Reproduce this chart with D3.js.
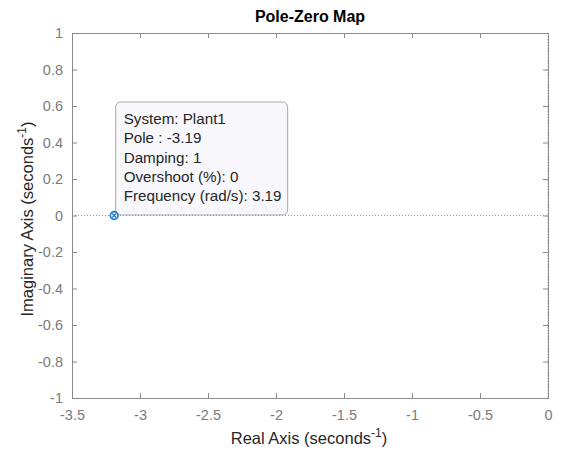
<!DOCTYPE html>
<html>
<head>
<meta charset="utf-8">
<script src="https://cdn.jsdelivr.net/npm/d3@7"></script>
<style>
  html, body { margin: 0; padding: 0; background: #fff; }
  svg { display: block; font-family: "Liberation Sans", Arial, Helvetica, sans-serif; }
</style>
</head>
<body>
<svg id="chart" width="563" height="455"></svg>
<script>
// Axis ranges and ticks
const xDomain = [-3.5, 0];
const yDomain = [-1, 1];
const xTicks = [-3.5, -3, -2.5, -2, -1.5, -1, -0.5, 0];
const yTicks = [-1, -0.8, -0.6, -0.4, -0.2, 0, 0.2, 0.4, 0.6, 0.8, 1];

// System poles (real, imaginary)
const poleRe = [-3.19];
const poleIm = [0];

// Data tip contents for the selected pole
const tipSystem = "Plant1";
const tipPole = -3.19;
const tipDamping = 1;
const tipOvershoot = 0;
const tipFrequency = 3.19;

const W = 563, H = 455;
const margin = { left: 72, right: 15, top: 33, bottom: 57 };
const iw = W - margin.left - margin.right;
const ih = H - margin.top - margin.bottom;

const axisColor = "#8a8a8a";
const tickTextColor = "#7b7b7b";
const labelColor = "#262626";
const poleColor = "#1a7ac9";

const svg = d3.select("#chart");
const g = svg.append("g").attr("transform", `translate(${margin.left},${margin.top})`);

const x = d3.scaleLinear().domain(xDomain).range([0, iw]);
const y = d3.scaleLinear().domain(yDomain).range([ih, 0]);

const fmt = d => d3.format("")(d).replace("−", "-");

// Zero reference lines (dotted)
g.append("line")
  .attr("x1", 0).attr("x2", iw)
  .attr("y1", y(0)).attr("y2", y(0))
  .attr("stroke", "#9a9a9a").attr("stroke-width", 1)
  .attr("stroke-dasharray", "1,2");
g.append("line")
  .attr("x1", x(0)).attr("x2", x(0))
  .attr("y1", 0).attr("y2", ih)
  .attr("stroke", "#9a9a9a").attr("stroke-width", 1)
  .attr("stroke-dasharray", "1,2");

// Axes with inward ticks on all four sides
const tickLen = 5;
function styleAxis(sel) {
  sel.select(".domain").remove();
  sel.selectAll(".tick line").attr("stroke", axisColor);
  sel.selectAll(".tick text")
    .attr("fill", tickTextColor)
    .style("font-size", "14.5px")
    .style("font-family", "\"Liberation Sans\", Arial, sans-serif");
}

g.append("g").attr("transform", `translate(0,${ih})`)
  .call(d3.axisBottom(x).tickValues(xTicks).tickFormat(fmt).tickSizeInner(-tickLen).tickSizeOuter(0).tickPadding(12))
  .call(styleAxis);
g.append("g")
  .call(d3.axisTop(x).tickValues(xTicks).tickFormat("").tickSizeInner(-tickLen).tickSizeOuter(0))
  .call(styleAxis);
g.append("g")
  .call(d3.axisLeft(y).tickValues(yTicks).tickFormat(fmt).tickSizeInner(-tickLen).tickSizeOuter(0).tickPadding(9))
  .call(styleAxis);
g.append("g").attr("transform", `translate(${iw},0)`)
  .call(d3.axisRight(y).tickValues(yTicks).tickFormat("").tickSizeInner(-tickLen).tickSizeOuter(0))
  .call(styleAxis);

// Box
g.append("rect")
  .attr("x", 0.5).attr("y", 0.5)
  .attr("width", iw).attr("height", ih)
  .attr("fill", "none").attr("stroke", axisColor).attr("stroke-width", 1);

// Data tip box
const tipLines = [
  `System: ${tipSystem}`,
  `Pole : ${tipPole}`,
  `Damping: ${tipDamping}`,
  `Overshoot (%): ${tipOvershoot}`,
  `Frequency (rad/s): ${tipFrequency}`
];
const px = x(poleRe[0]), py = y(poleIm[0]);
const tip = g.append("g").attr("transform", `translate(${px + 1},${py - 1})`);
const tipW = 172, tipH = 113;
tip.append("rect")
  .attr("x", 0.5).attr("y", -tipH + 0.5)
  .attr("width", tipW).attr("height", tipH)
  .attr("rx", 5).attr("ry", 5)
  .attr("fill", "#f8f8fc").attr("stroke", "#a8a8a8").attr("stroke-width", 1);
tip.selectAll("text.tipline")
  .data(tipLines)
  .join("text")
  .attr("class", "tipline")
  .attr("x", 8.5)
  .attr("y", (d, i) => -tipH + 22.5 + i * 19.25)
  .attr("fill", labelColor)
  .style("font-size", "15.2px")
  .text(d => d);

// Poles: circle with cross (highlighted by the data tip)
const poles = poleRe.map((re, i) => ({ re, im: poleIm[i] }));
const pg = g.selectAll("g.pole").data(poles).join("g")
  .attr("class", "pole")
  .attr("transform", d => `translate(${x(d.re)},${y(d.im)})`);
pg.append("circle").attr("r", 3.8)
  .attr("fill", "#ffffff").attr("stroke", poleColor).attr("stroke-width", 1.7);
pg.append("path").attr("d", "M-2,-2L2,2M-2,2L2,-2")
  .attr("stroke", poleColor).attr("stroke-width", 1.2);

// Title
svg.append("text")
  .attr("x", margin.left + iw / 2).attr("y", 22)
  .attr("text-anchor", "middle")
  .attr("fill", "#000")
  .style("font-size", "16px").style("font-weight", "bold")
  .text("Pole-Zero Map");

// X axis label with superscript
const xl = svg.append("text")
  .attr("x", margin.left + iw / 2 - 1).attr("y", 444)
  .attr("text-anchor", "middle")
  .attr("fill", labelColor)
  .style("font-size", "16.5px");
xl.append("tspan").text("Real Axis (seconds");
xl.append("tspan").attr("dy", -7).style("font-size", "12px").text("-1");
xl.append("tspan").attr("dy", 7).text(")");

// Y axis label with superscript
const yl = svg.append("text")
  .attr("transform", `translate(33,219) rotate(-90)`)
  .attr("text-anchor", "middle")
  .attr("fill", labelColor)
  .style("font-size", "16.5px");
yl.append("tspan").text("Imaginary Axis (seconds");
yl.append("tspan").attr("dy", -7).style("font-size", "12px").text("-1");
yl.append("tspan").attr("dy", 7).text(")");
</script>
</body>
</html>
